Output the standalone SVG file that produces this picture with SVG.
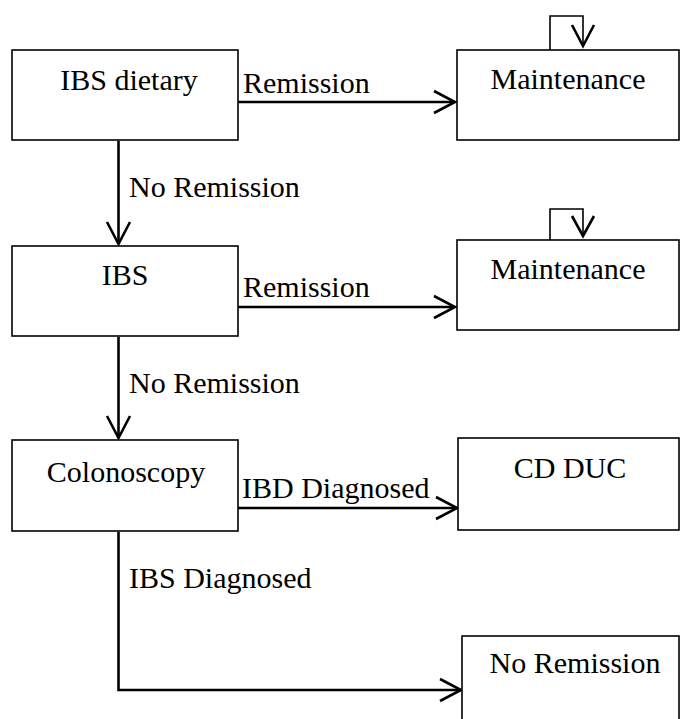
<svg xmlns="http://www.w3.org/2000/svg" width="681" height="719" viewBox="0 0 681 719">
<style>
.box{fill:#fff;stroke:#000;stroke-width:1.6}
.t{font-family:'Liberation Serif','DejaVu Serif',serif;font-size:30px;fill:#000}
.c{text-anchor:middle}
.ln{fill:none;stroke:#000;stroke-width:2.6}
.lp{fill:none;stroke:#000;stroke-width:1.6}
.ah{fill:none;stroke:#000;stroke-width:2.6;stroke-linejoin:miter}
</style>
<rect width="681" height="719" fill="#fff"/>
<g id="connectors">
  <line class="ln" x1="238" y1="102" x2="455" y2="102"/>
  <polyline class="ah" points="434,91 455,102 434,113"/>
  <line class="ln" x1="118.5" y1="141" x2="118.5" y2="244"/>
  <polyline class="ah" points="107,222 118.5,244 130,222"/>
  <line class="ln" x1="238" y1="307" x2="455" y2="307"/>
  <polyline class="ah" points="434,296 455,307 434,318"/>
  <line class="ln" x1="118.5" y1="337" x2="118.5" y2="438"/>
  <polyline class="ah" points="107,416 118.5,438 130,416"/>
  <line class="ln" x1="238" y1="508" x2="457" y2="508"/>
  <polyline class="ah" points="436,497 457,508 436,519"/>
  <polyline class="ln" points="118.5,532 118.5,690 461,690"/>
  <polyline class="ah" points="440,679 461,690 440,701"/>
  <polyline class="lp" points="550,50 550,16 583,16 583,46"/>
  <polyline class="ah" points="572,25 583,46 594,25"/>
  <polyline class="lp" points="550,240 550,209 583,209 583,236"/>
  <polyline class="ah" points="572,216 583,236 594,216"/>
  <text class="t" x="243" y="93">Remission</text>
  <text class="t" x="129" y="197">No Remission</text>
  <text class="t" x="243" y="297">Remission</text>
  <text class="t" x="129" y="393">No Remission</text>
  <text class="t" x="242" y="498">IBD Diagnosed</text>
  <text class="t" x="129" y="588">IBS Diagnosed</text>
</g>
<g id="node-ibs-dietary">
  <rect class="box" x="12" y="50" width="226" height="90"/>
  <text class="t c" x="129" y="90">IBS dietary</text>
</g>
<g id="node-maintenance-1">
  <rect class="box" x="457" y="50" width="222" height="90"/>
  <text class="t c" x="568" y="89">Maintenance</text>
</g>
<g id="node-ibs">
  <rect class="box" x="12" y="246" width="226" height="90"/>
  <text class="t c" x="125" y="285">IBS</text>
</g>
<g id="node-maintenance-2">
  <rect class="box" x="457" y="240" width="222" height="90"/>
  <text class="t c" x="568" y="279">Maintenance</text>
</g>
<g id="node-colonoscopy">
  <rect class="box" x="12" y="440" width="226" height="91"/>
  <text class="t c" x="126" y="482">Colonoscopy</text>
</g>
<g id="node-cd-duc">
  <rect class="box" x="458" y="438" width="221" height="92"/>
  <text class="t c" x="570" y="478">CD DUC</text>
</g>
<g id="node-no-remission">
  <rect class="box" x="462" y="636" width="217" height="100"/>
  <text class="t c" x="575" y="673">No Remission</text>
</g>
</svg>
